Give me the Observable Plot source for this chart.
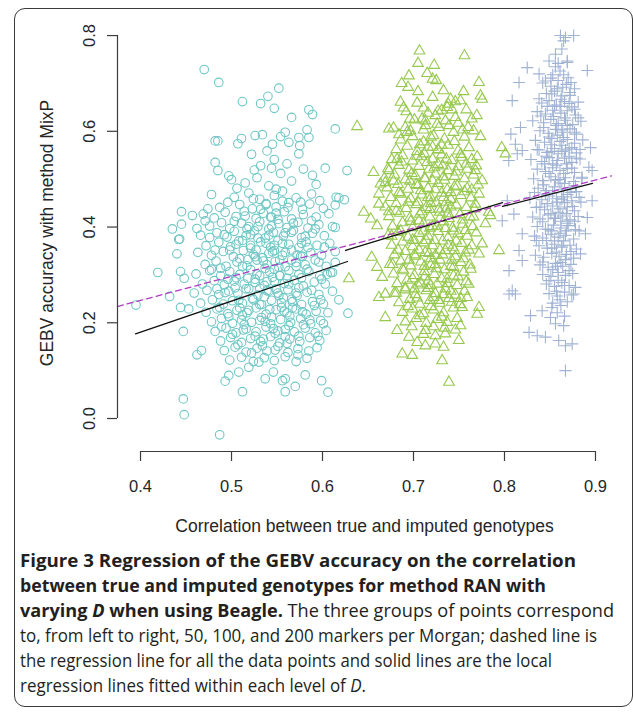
<!DOCTYPE html>
<html>
<head>
<meta charset="utf-8">
<script src="https://cdn.jsdelivr.net/npm/d3@7"></script>
<script src="https://cdn.jsdelivr.net/npm/@observablehq/plot@0.6"></script>
<style>
html, body { margin: 0; padding: 0; background: #fff; overflow: hidden; width: 633px; height: 713px; }
#frame { position: absolute; left: 14px; top: 8px; width: 619px; height: 699px; border: 1.5px solid #3a3a3a; border-radius: 11px; box-sizing: border-box; }
#chart { position: absolute; left: 0; top: 0; }
#caption { position: absolute; left: 20px; top: 548px; font-family: "Open Sans", "Noto Sans", sans-serif; font-size: 17.5px; line-height: 25px; color: #231f20; }
#caption .ln { white-space: nowrap; transform-origin: 0 50%; display: block; width: max-content; }
#caption b { font-weight: 700; }
</style>
</head>
<body>
<div id="frame"></div>
<div id="chart"></div>
<div id="caption">
  <div class="ln" data-w="556"><b>Figure 3 Regression of the GEBV accuracy on the correlation</b></div>
  <div class="ln" data-w="526"><b>between true and imputed genotypes for method RAN with</b></div>
  <div class="ln" data-w="594"><b>varying <i>D</i> when using Beagle.</b> The three groups of points correspond</div>
  <div class="ln" data-w="577">to, from left to right, 50, 100, and 200 markers per Morgan; dashed line is</div>
  <div class="ln" data-w="532">the regression line for all the data points and solid lines are the local</div>
  <div class="ln" data-w="346">regression lines fitted within each level of <i>D</i>.</div>
</div>
<script>
// ---- data ----
const xTicks = [0.4, 0.5, 0.6, 0.7, 0.8, 0.9];
const yTicks = [0.0, 0.2, 0.4, 0.6, 0.8];
const xTitle = "Correlation between true and imputed genotypes";
const yTitle = "GEBV accuracy with method MixP";

// D = 50 markers per Morgan (circles)
const pts50 = [
[0.470,0.729],[0.486,0.702],[0.512,0.662],[0.532,0.658],[0.540,0.673],[0.552,0.690],[0.547,0.648],[0.566,0.629],[0.585,0.645],[0.589,0.635],[0.614,0.605],
[0.482,0.580],[0.485,0.580],[0.507,0.574],[0.511,0.585],[0.526,0.591],[0.534,0.593],[0.554,0.589],[0.559,0.598],[0.563,0.577],[0.574,0.587],[0.585,0.587],[0.583,0.603],[0.545,0.573],[0.575,0.570],
[0.627,0.518],[0.482,0.535],[0.485,0.518],[0.497,0.507],[0.500,0.499],
[0.445,0.432],[0.457,0.424],[0.474,0.438],[0.435,0.396],[0.445,0.406],[0.462,0.397],[0.471,0.413],[0.443,0.375],
[0.603,0.523],[0.615,0.462],[0.624,0.457],[0.614,0.446],[0.618,0.461],[0.614,0.399],
[0.419,0.305],[0.444,0.307],[0.448,0.293],[0.432,0.255],[0.395,0.237],[0.442,0.374],[0.440,0.344],[0.444,0.232],[0.453,0.229],[0.447,0.182],[0.462,0.133],[0.467,0.142],
[0.447,0.041],[0.448,0.008],[0.487,-0.034],[0.512,0.056],[0.493,0.078],[0.497,0.090],[0.508,0.097],[0.519,0.107],[0.530,0.118],[0.537,0.083],[0.546,0.097],[0.556,0.079],[0.559,0.083],[0.559,0.056],[0.570,0.067],[0.581,0.091],[0.599,0.079],[0.606,0.055],
[0.618,0.248],[0.628,0.220],[0.611,0.305],[0.614,0.326],
[0.515,0.492],[0.528,0.503],[0.541,0.486],[0.554,0.512],[0.566,0.496],[0.579,0.521],[0.532,0.528],[0.547,0.541],[0.561,0.532],[0.522,0.552],[0.539,0.559],[0.574,0.553],[0.593,0.489],[0.506,0.481],[0.549,0.479],[0.589,0.508],[0.544,0.523],[0.525,0.519],
[0.478,0.468],[0.503,0.462],[0.519,0.471],[0.531,0.458],[0.547,0.466],[0.556,0.475],[0.571,0.461],[0.588,0.469],[0.597,0.455],
[0.487,0.441],[0.496,0.452],[0.509,0.447],[0.523,0.438],[0.538,0.449],[0.549,0.442],[0.563,0.451],[0.578,0.437],[0.586,0.448],[0.601,0.439],
[0.469,0.427],[0.481,0.419],[0.493,0.431],[0.505,0.422],[0.514,0.433],[0.527,0.418],[0.535,0.429],[0.544,0.421],[0.558,0.432],[0.566,0.417],[0.579,0.426],[0.593,0.421],[0.607,0.428],
[0.476,0.402],[0.489,0.409],[0.498,0.397],[0.511,0.408],[0.519,0.401],[0.531,0.411],[0.541,0.396],[0.552,0.407],[0.561,0.399],[0.573,0.410],[0.584,0.398],[0.596,0.405],[0.611,0.401],
[0.466,0.383],[0.484,0.388],[0.495,0.379],[0.503,0.391],[0.516,0.382],[0.525,0.392],[0.537,0.377],[0.546,0.389],[0.557,0.381],[0.568,0.393],[0.577,0.378],[0.589,0.387],[0.602,0.382],
[0.472,0.361],[0.486,0.368],[0.499,0.359],[0.508,0.371],[0.521,0.362],[0.532,0.369],[0.543,0.358],[0.551,0.372],[0.563,0.364],[0.574,0.357],[0.582,0.369],[0.594,0.362],[0.608,0.366],
[0.463,0.347],[0.478,0.341],[0.491,0.349],[0.502,0.338],[0.513,0.351],[0.524,0.343],[0.534,0.336],[0.545,0.348],[0.556,0.341],[0.566,0.352],[0.576,0.339],[0.587,0.346],[0.599,0.341],[0.614,0.349],
[0.471,0.322],[0.483,0.329],[0.494,0.318],[0.506,0.327],[0.517,0.319],[0.528,0.331],[0.539,0.321],[0.548,0.328],[0.559,0.317],[0.571,0.326],[0.581,0.321],[0.592,0.331],[0.604,0.318],
[0.461,0.302],[0.476,0.309],[0.488,0.298],[0.498,0.307],[0.509,0.301],[0.521,0.311],[0.531,0.298],[0.542,0.306],[0.553,0.299],[0.563,0.309],[0.574,0.301],[0.585,0.307],[0.597,0.298],[0.609,0.305],
[0.468,0.281],[0.481,0.288],[0.492,0.279],[0.503,0.287],[0.514,0.281],[0.526,0.291],[0.536,0.278],[0.547,0.286],[0.558,0.282],[0.569,0.289],[0.579,0.277],[0.591,0.285],[0.603,0.281],
[0.459,0.262],[0.473,0.268],[0.486,0.259],[0.497,0.266],[0.507,0.261],[0.519,0.271],[0.529,0.258],[0.539,0.267],[0.551,0.262],[0.562,0.269],[0.572,0.257],[0.583,0.264],[0.596,0.259],[0.611,0.266],
[0.466,0.241],[0.479,0.248],[0.491,0.239],[0.501,0.246],[0.512,0.241],[0.523,0.251],[0.533,0.238],[0.544,0.247],[0.555,0.242],[0.566,0.249],[0.577,0.238],[0.589,0.244],[0.601,0.239],
[0.472,0.222],[0.484,0.229],[0.496,0.219],[0.506,0.226],[0.517,0.221],[0.527,0.231],[0.538,0.218],[0.549,0.227],[0.561,0.221],[0.571,0.229],[0.582,0.218],[0.593,0.224],[0.606,0.221],
[0.478,0.202],[0.489,0.209],[0.501,0.199],[0.511,0.206],[0.522,0.201],[0.533,0.211],[0.543,0.198],[0.554,0.207],[0.565,0.201],[0.576,0.209],[0.587,0.198],[0.598,0.205],
[0.482,0.182],[0.494,0.189],[0.505,0.179],[0.516,0.187],[0.527,0.181],[0.538,0.191],[0.548,0.178],[0.559,0.186],[0.569,0.181],[0.581,0.189],[0.592,0.179],[0.604,0.184],
[0.488,0.162],[0.499,0.169],[0.511,0.159],[0.521,0.167],[0.532,0.161],[0.543,0.171],[0.553,0.158],[0.564,0.166],[0.575,0.161],[0.586,0.169],[0.597,0.163],
[0.492,0.142],[0.504,0.149],[0.516,0.139],[0.528,0.147],[0.539,0.141],[0.551,0.151],[0.562,0.138],[0.573,0.146],[0.585,0.141],[0.594,0.148],
[0.498,0.122],[0.511,0.128],[0.524,0.119],[0.536,0.127],[0.547,0.121],[0.559,0.129],[0.571,0.119],[0.583,0.126],
[0.512,0.372],[0.527,0.352],[0.541,0.383],[0.553,0.331],[0.518,0.293],[0.537,0.314],[0.549,0.271],[0.561,0.293],[0.524,0.248],[0.542,0.228],[0.557,0.252],[0.531,0.205],[0.546,0.188],[0.564,0.214],[0.509,0.231],[0.572,0.342],[0.583,0.312],[0.504,0.273],[0.529,0.401],[0.551,0.416],[0.538,0.447],[0.566,0.389],[0.574,0.273],[0.518,0.332],[0.547,0.351],[0.559,0.171],[0.534,0.152],[0.579,0.196],[0.496,0.291],[0.541,0.266],[0.552,0.316],[0.526,0.284],[0.567,0.231],[0.513,0.185],
[0.503,0.412],[0.517,0.396],[0.529,0.377],[0.544,0.402],[0.556,0.366],[0.568,0.408],[0.581,0.381],[0.592,0.396],
[0.498,0.352],[0.509,0.334],[0.521,0.356],[0.535,0.329],[0.547,0.362],[0.559,0.347],[0.571,0.318],[0.584,0.357],[0.596,0.327],
[0.493,0.263],[0.505,0.294],[0.516,0.271],[0.528,0.302],[0.539,0.286],[0.552,0.257],[0.563,0.281],[0.577,0.294],[0.588,0.268],[0.599,0.291],
[0.497,0.213],[0.508,0.247],[0.519,0.226],[0.531,0.238],[0.544,0.212],[0.555,0.232],[0.567,0.244],[0.578,0.223],[0.591,0.236],
[0.501,0.176],[0.514,0.196],[0.526,0.172],[0.537,0.203],[0.551,0.183],[0.563,0.194],[0.574,0.172],[0.586,0.206],
[0.507,0.154],[0.522,0.137],[0.535,0.166],[0.548,0.143],[0.561,0.157],[0.573,0.133],
[0.515,0.423],[0.532,0.437],[0.549,0.429],[0.562,0.441],[0.576,0.452],[0.524,0.459],[0.556,0.454],
[0.512,0.318],[0.526,0.338],[0.541,0.345],[0.553,0.298],[0.566,0.331],[0.578,0.339],[0.531,0.272],[0.545,0.295],[0.558,0.224],[0.512,0.216],[0.536,0.254],[0.547,0.312],[0.571,0.262],[0.521,0.384],[0.538,0.366],[0.559,0.388],[0.577,0.366],[0.505,0.364],[0.543,0.421],[0.588,0.413],[0.492,0.384],[0.482,0.352],[0.488,0.314],[0.484,0.271],[0.487,0.232],[0.602,0.358],[0.605,0.301],[0.598,0.248],[0.601,0.198],[0.595,0.172],[0.489,0.192],[0.478,0.312],[0.476,0.378]
];

// D = 100 markers per Morgan (triangles)
const pts100 = [
[0.7066,0.768],[0.756,0.758],[0.705,0.742],[0.7227,0.738],[0.695,0.716],[0.687,0.700],[0.694,0.692],[0.715,0.721],[0.721,0.709],[0.725,0.706],[0.772,0.702],[0.733,0.685],[0.755,0.683],[0.7736,0.674],[0.7755,0.667],
[0.6857,0.661],[0.689,0.649],[0.704,0.659],[0.711,0.649],[0.7407,0.667],[0.746,0.662],[0.7516,0.664],[0.737,0.650],[0.7425,0.645],[0.638,0.610],
[0.673,0.605],[0.678,0.607],[0.691,0.608],[0.684,0.593],[0.6967,0.601],[0.7095,0.626],[0.713,0.612],[0.724,0.633],[0.735,0.622],[0.728,0.608],[0.764,0.626],[0.7696,0.633],[0.760,0.608],[0.766,0.601],[0.7736,0.589],
[0.797,0.566],[0.801,0.553],[0.656,0.514],[0.6637,0.490],[0.662,0.469],[0.6454,0.431],[0.653,0.417],[0.662,0.448],[0.682,0.542],[0.673,0.518],[0.669,0.493],
[0.770,0.547],[0.768,0.518],[0.7755,0.497],[0.772,0.469],[0.7827,0.431],[0.779,0.407],[0.766,0.421],[0.660,0.403],[0.629,0.292],[0.654,0.337],[0.660,0.316],[0.6656,0.295],[0.662,0.253],[0.669,0.260],[0.669,0.211],
[0.6876,0.135],[0.6986,0.132],[0.682,0.184],[0.695,0.170],[0.704,0.159],[0.713,0.152],[0.724,0.156],[0.733,0.149],[0.7315,0.121],[0.739,0.076],[0.7498,0.163],[0.7516,0.194],[0.735,0.177],[0.713,0.184],[0.724,0.173],
[0.772,0.232],[0.770,0.218],[0.759,0.253],[0.7535,0.232],[0.7846,0.424],[0.7755,0.365],[0.772,0.344],[0.794,0.351],[0.7606,0.281],
[0.701,0.624],[0.716,0.638],[0.731,0.644],[0.746,0.629],[0.692,0.641],[0.738,0.657],[0.758,0.645],[0.721,0.671],[0.705,0.683],[0.749,0.617],
[0.686,0.582],[0.699,0.589],[0.711,0.578],[0.722,0.591],[0.734,0.584],[0.745,0.579],[0.756,0.588],
[0.681,0.562],[0.693,0.569],[0.704,0.558],[0.716,0.567],[0.727,0.561],[0.738,0.571],[0.749,0.559],[0.761,0.566],
[0.676,0.541],[0.688,0.549],[0.699,0.538],[0.709,0.547],[0.721,0.542],[0.731,0.551],[0.742,0.539],[0.753,0.546],[0.764,0.541],
[0.672,0.522],[0.684,0.529],[0.695,0.519],[0.706,0.527],[0.717,0.521],[0.727,0.531],[0.738,0.518],[0.749,0.526],[0.759,0.521],[0.769,0.528],
[0.668,0.502],[0.679,0.509],[0.691,0.499],[0.702,0.507],[0.713,0.501],[0.724,0.511],[0.734,0.498],[0.745,0.506],[0.756,0.501],[0.766,0.509],
[0.671,0.482],[0.683,0.489],[0.694,0.479],[0.705,0.487],[0.716,0.481],[0.727,0.491],[0.737,0.478],[0.748,0.486],[0.759,0.481],[0.771,0.488],
[0.675,0.462],[0.686,0.469],[0.697,0.459],[0.709,0.467],[0.719,0.461],[0.731,0.471],[0.741,0.458],[0.752,0.466],[0.763,0.461],
[0.669,0.442],[0.681,0.449],[0.692,0.439],[0.703,0.447],[0.714,0.441],[0.725,0.451],[0.736,0.438],[0.747,0.446],[0.758,0.441],[0.768,0.448],
[0.673,0.422],[0.685,0.429],[0.696,0.419],[0.707,0.427],[0.718,0.421],[0.729,0.431],[0.739,0.418],[0.751,0.426],[0.762,0.421],
[0.677,0.402],[0.688,0.409],[0.699,0.399],[0.711,0.407],[0.721,0.401],[0.733,0.411],[0.743,0.398],[0.754,0.406],[0.765,0.401],
[0.672,0.382],[0.683,0.389],[0.694,0.379],[0.706,0.387],[0.716,0.381],[0.727,0.391],[0.738,0.378],[0.749,0.386],[0.759,0.381],[0.769,0.388],
[0.676,0.362],[0.688,0.369],[0.699,0.359],[0.711,0.367],[0.721,0.361],[0.732,0.371],[0.743,0.358],[0.753,0.366],[0.764,0.361],
[0.679,0.342],[0.691,0.349],[0.702,0.339],[0.713,0.347],[0.724,0.341],[0.735,0.351],[0.746,0.338],[0.757,0.346],
[0.674,0.322],[0.686,0.329],[0.697,0.319],[0.708,0.327],[0.719,0.321],[0.729,0.331],[0.741,0.318],[0.752,0.326],[0.762,0.321],
[0.678,0.302],[0.689,0.309],[0.701,0.299],[0.712,0.307],[0.723,0.301],[0.734,0.311],[0.744,0.298],[0.755,0.306],
[0.682,0.282],[0.693,0.289],[0.705,0.279],[0.716,0.287],[0.726,0.281],[0.737,0.291],[0.748,0.278],[0.758,0.286],
[0.679,0.262],[0.691,0.269],[0.702,0.259],[0.714,0.267],[0.724,0.261],[0.735,0.271],[0.746,0.258],[0.756,0.266],
[0.684,0.242],[0.696,0.249],[0.707,0.239],[0.718,0.247],[0.729,0.241],[0.739,0.251],[0.751,0.238],
[0.688,0.222],[0.699,0.229],[0.711,0.219],[0.722,0.227],[0.733,0.221],[0.744,0.231],
[0.691,0.202],[0.703,0.209],[0.714,0.199],[0.726,0.207],[0.737,0.201],[0.748,0.209],
[0.705,0.452],[0.718,0.398],[0.729,0.352],[0.712,0.318],[0.738,0.428],[0.701,0.372],[0.724,0.478],[0.715,0.535],[0.733,0.505],[0.744,0.392],[0.708,0.283],[0.722,0.253],[0.697,0.412],[0.731,0.292],[0.717,0.345],[0.741,0.472],[0.727,0.562],[0.711,0.603],[0.726,0.615],[0.703,0.489],[0.742,0.331],[0.719,0.449],
[0.693,0.598],[0.707,0.572],[0.719,0.588],[0.731,0.571],[0.744,0.598],[0.752,0.552],
[0.687,0.536],[0.698,0.512],[0.712,0.553],[0.723,0.524],[0.736,0.542],[0.747,0.515],[0.758,0.532],
[0.684,0.472],[0.696,0.496],[0.708,0.476],[0.721,0.497],[0.733,0.462],[0.745,0.484],[0.756,0.474],
[0.681,0.433],[0.694,0.452],[0.706,0.413],[0.718,0.437],[0.729,0.418],[0.741,0.442],[0.754,0.415],
[0.686,0.392],[0.699,0.373],[0.711,0.392],[0.723,0.372],[0.735,0.397],[0.747,0.371],[0.757,0.393],
[0.683,0.352],[0.695,0.331],[0.706,0.352],[0.719,0.334],[0.732,0.342],[0.744,0.316],[0.755,0.334],
[0.688,0.312],[0.699,0.292],[0.712,0.296],[0.725,0.313],[0.737,0.282],[0.749,0.296],
[0.691,0.273],[0.704,0.252],[0.716,0.272],[0.728,0.247],[0.741,0.266],[0.752,0.251],
[0.694,0.234],[0.707,0.215],[0.719,0.234],[0.731,0.212],[0.742,0.243],
[0.698,0.192],[0.711,0.176],[0.722,0.192],[0.734,0.189],[0.746,0.185],
[0.716,0.462],[0.728,0.438],[0.709,0.432],[0.736,0.452],[0.714,0.372],[0.726,0.402],[0.701,0.342],[0.738,0.362],[0.724,0.322],[0.712,0.502],[0.732,0.528],[0.704,0.548],[0.721,0.567],[0.739,0.612],[0.713,0.622],[0.696,0.626],[0.727,0.642],[0.754,0.603],[0.701,0.271],[0.733,0.259],[0.719,0.278],[0.745,0.351],[0.676,0.381],[0.673,0.432],[0.678,0.496],[0.764,0.478],[0.767,0.438],[0.761,0.352],[0.763,0.312],[0.677,0.322],[0.681,0.262]
];

// D = 200 markers per Morgan (plus signs)
const pts200 = [
[0.8615,0.800],[0.867,0.796],[0.876,0.800],[0.865,0.789],[0.891,0.727],[0.825,0.733],[0.816,0.702],[0.8085,0.664],[0.838,0.720],[0.849,0.747],[0.856,0.761],[0.869,0.747],
[0.8176,0.608],[0.807,0.594],[0.812,0.573],[0.8195,0.560],[0.8047,0.539],[0.814,0.553],[0.8945,0.566],[0.8927,0.525],[0.8963,0.455],[0.891,0.420],
[0.803,0.455],[0.7975,0.413],[0.8103,0.427],[0.8195,0.386],[0.816,0.351],[0.805,0.309],[0.8195,0.330],[0.8085,0.267],[0.812,0.260],[0.805,0.260],
[0.8286,0.215],[0.827,0.180],[0.836,0.173],[0.845,0.170],[0.856,0.198],[0.865,0.194],[0.8596,0.163],[0.867,0.152],[0.8744,0.156],[0.867,0.100],[0.8414,0.225],[0.8505,0.211],
[0.8963,0.518],[0.8853,0.504],[0.889,0.386],[0.8835,0.344],[0.878,0.274],[0.876,0.260],
[0.853,0.718],[0.861,0.726],[0.870,0.712],
[0.842,0.701],[0.851,0.694],[0.859,0.706],[0.868,0.698],[0.877,0.689],
[0.846,0.679],[0.855,0.684],[0.863,0.674],[0.872,0.681],[0.838,0.668],
[0.841,0.659],[0.849,0.664],[0.857,0.655],[0.866,0.662],[0.874,0.651],[0.881,0.661],
[0.836,0.641],[0.845,0.636],[0.853,0.644],[0.862,0.638],[0.869,0.643],[0.878,0.634],
[0.831,0.622],[0.843,0.618],[0.851,0.625],[0.859,0.616],[0.867,0.623],[0.875,0.614],[0.884,0.621],
[0.839,0.601],[0.848,0.596],[0.856,0.604],[0.864,0.598],[0.872,0.605],[0.879,0.594],
[0.834,0.581],[0.844,0.577],[0.852,0.585],[0.861,0.579],[0.869,0.583],[0.877,0.575],[0.886,0.582],
[0.838,0.561],[0.847,0.556],[0.855,0.564],[0.863,0.558],[0.871,0.563],[0.879,0.555],
[0.829,0.541],[0.841,0.537],[0.849,0.545],[0.858,0.539],[0.866,0.544],[0.874,0.535],[0.883,0.542],
[0.836,0.521],[0.845,0.516],[0.853,0.524],[0.861,0.518],[0.869,0.522],[0.877,0.514],
[0.832,0.501],[0.842,0.497],[0.851,0.505],[0.859,0.499],[0.867,0.503],[0.876,0.495],[0.885,0.502],
[0.837,0.481],[0.846,0.476],[0.855,0.484],[0.863,0.478],[0.871,0.482],[0.879,0.474],
[0.828,0.461],[0.841,0.457],[0.849,0.465],[0.857,0.459],[0.865,0.463],[0.874,0.455],[0.882,0.462],
[0.835,0.441],[0.844,0.436],[0.853,0.444],[0.861,0.438],[0.869,0.442],[0.877,0.434],
[0.831,0.421],[0.839,0.417],[0.848,0.425],[0.856,0.419],[0.864,0.423],[0.872,0.415],[0.881,0.422],
[0.836,0.401],[0.845,0.396],[0.854,0.404],[0.862,0.398],[0.870,0.403],[0.878,0.395],
[0.833,0.381],[0.842,0.377],[0.851,0.385],[0.859,0.379],[0.867,0.383],[0.876,0.375],
[0.838,0.361],[0.847,0.356],[0.855,0.364],[0.863,0.358],[0.872,0.362],[0.879,0.354],
[0.834,0.341],[0.843,0.337],[0.852,0.345],[0.860,0.339],[0.868,0.343],[0.876,0.335],
[0.839,0.321],[0.848,0.316],[0.856,0.324],[0.864,0.318],[0.873,0.322],
[0.842,0.301],[0.851,0.297],[0.859,0.305],[0.867,0.299],[0.875,0.303],
[0.846,0.281],[0.855,0.276],[0.863,0.284],[0.871,0.278],
[0.849,0.261],[0.858,0.256],[0.866,0.264],[0.874,0.258],
[0.853,0.241],[0.862,0.236],[0.869,0.244],
[0.857,0.612],[0.863,0.571],[0.853,0.532],[0.866,0.491],[0.858,0.452],[0.862,0.412],[0.855,0.371],[0.867,0.332],[0.861,0.652],[0.849,0.588],[0.871,0.548],[0.845,0.469],[0.868,0.428],[0.852,0.392],[0.859,0.289],[0.864,0.692],[0.856,0.735],[0.869,0.744],
[0.851,0.711],[0.865,0.718],[0.858,0.689],[0.873,0.702],[0.847,0.652],[0.862,0.667],[0.871,0.658],[0.854,0.631],[0.866,0.628],[0.877,0.646],
[0.843,0.608],[0.858,0.592],[0.869,0.612],[0.851,0.572],[0.865,0.587],[0.874,0.566],[0.846,0.548],[0.859,0.553],[0.868,0.532],[0.879,0.544],
[0.849,0.512],[0.857,0.529],[0.865,0.512],[0.874,0.523],[0.843,0.488],[0.853,0.471],[0.861,0.492],[0.869,0.468],[0.878,0.486],
[0.847,0.449],[0.859,0.431],[0.866,0.451],[0.875,0.443],[0.842,0.411],[0.851,0.428],[0.861,0.387],[0.869,0.408],[0.877,0.412],
[0.846,0.372],[0.857,0.348],[0.865,0.371],[0.873,0.349],[0.842,0.327],[0.853,0.311],[0.862,0.326],[0.871,0.309],[0.849,0.288],[0.866,0.278],[0.857,0.266],[0.861,0.248],
[0.855,0.652],[0.863,0.603],[0.852,0.558],[0.867,0.561],[0.856,0.498],[0.863,0.458],[0.855,0.418],[0.863,0.361],[0.858,0.318],[0.852,0.356],[0.868,0.392],[0.848,0.395],[0.873,0.472],[0.844,0.532],[0.877,0.598],[0.859,0.742],[0.852,0.678],[0.872,0.675],[0.840,0.632],[0.836,0.562],[0.833,0.472],[0.839,0.442],[0.835,0.372],[0.882,0.392],[0.884,0.452],[0.883,0.562],[0.881,0.628],[0.845,0.705],[0.863,0.772],[0.858,0.221],[0.866,0.214],[0.852,0.232]
];

// regression lines (end points)
const fit50 = [[0.3945, 0.177], [0.6275, 0.328]];
const fit100 = [[0.6253, 0.351], [0.7978, 0.451]];
const fit200 = [[0.7978, 0.443], [0.8967, 0.491]];
const fitAll = [[0.3747, 0.234], [0.9176, 0.507]];

const xDomain = [0.3747, 0.9176];
const yDomain = [-0.0689, 0.844];

const cTeal = "#6fc7c5", cGreen = "#96c94e", cBlue = "#a0b3d3";
const axisColor = "#3c3c3c";
const textColor = "#262626";
const font = "'Liberation Sans', Arial, sans-serif";
const fx = d => d[0], fy = d => d[1];

const chart = Plot.plot({
  width: 633,
  height: 540,
  marginLeft: 117,
  marginRight: 22,
  marginTop: 14,
  marginBottom: 89,
  style: { fontFamily: font, fontSize: "16px", color: textColor, background: "transparent", overflow: "visible" },
  x: { domain: xDomain },
  y: { domain: yDomain },
  marks: [
    Plot.dot(pts50, { x: fx, y: fy, symbol: "circle", r: 4.3, stroke: cTeal, fill: "none", strokeWidth: 1.1 }),
    Plot.dot(pts100, { x: fx, y: fy, symbol: "triangle2", r: 5.1, stroke: cGreen, fill: "none", strokeWidth: 1.1 }),
    Plot.dot(pts200, { x: fx, y: fy, symbol: "plus", r: 4.0, stroke: cBlue, fill: "none", strokeWidth: 1.1 }),
    Plot.line(fit50, { x: fx, y: fy, stroke: "#111", strokeWidth: 1.3 }),
    Plot.line(fit100, { x: fx, y: fy, stroke: "#111", strokeWidth: 1.3 }),
    Plot.line(fit200, { x: fx, y: fy, stroke: "#111", strokeWidth: 1.3 }),
    Plot.line(fitAll, { x: fx, y: fy, stroke: "#b03cc4", strokeWidth: 1.3, strokeDasharray: "6,4" }),
    // axes (R style, detached lines spanning the ticks)
    Plot.ruleX([xDomain[0]], { y1: yTicks[0], y2: yTicks[yTicks.length - 1], stroke: axisColor, strokeWidth: 1.2 }),
    Plot.ruleY([yDomain[0]], { x1: xTicks[0], x2: xTicks[xTicks.length - 1], stroke: axisColor, strokeWidth: 1.2 }),
    Plot.axisY({ ticks: yTicks, tickSize: 10, tickFormat: () => "", label: null, stroke: axisColor, strokeWidth: 1.2 }),
    Plot.axisX({ ticks: xTicks, tickSize: 10, tickFormat: () => "", label: null, stroke: axisColor, strokeWidth: 1.2 }),
    Plot.text(yTicks, { y: d => d, frameAnchor: "left", dx: -28, rotate: -90, textAnchor: "middle", lineAnchor: "middle", text: d => d.toFixed(1), fontSize: 16.5, fill: textColor }),
    Plot.text(xTicks, { x: d => d, frameAnchor: "bottom", dy: 35, textAnchor: "middle", lineAnchor: "middle", text: d => d.toFixed(1), fontSize: 16.5, fill: textColor }),
    Plot.text([xTitle], { frameAnchor: "bottom", dy: 75, textAnchor: "middle", lineAnchor: "middle", text: d => d, fontSize: 17.5, fill: textColor }),
    Plot.text([yTitle], { frameAnchor: "left", dx: -70, rotate: -90, textAnchor: "middle", lineAnchor: "middle", text: d => d, fontSize: 17.5, fill: textColor })
  ]
});
document.getElementById("chart").appendChild(chart);

// fit each caption line to its width in the original figure
document.querySelectorAll("#caption .ln").forEach(el => {
  const w = el.getBoundingClientRect().width;
  const target = +el.dataset.w;
  el.style.transform = `scaleX(${target / w})`;
});
</script>
</body>
</html>
